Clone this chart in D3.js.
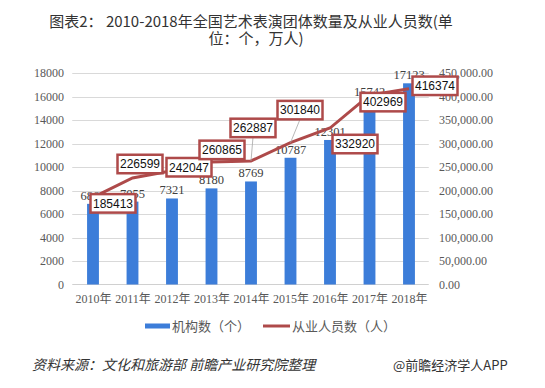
<!DOCTYPE html>
<html><head><meta charset="utf-8">
<script src="https://cdn.jsdelivr.net/npm/d3@7"></script>
<style>body{margin:0;background:#fff}svg{display:block}</style>
</head><body><svg id="c" width="545" height="388"></svg>
<script>
const years = ["2010年","2011年","2012年","2013年","2014年","2015年","2016年","2017年","2018年"];
const orgCounts = [6864,7055,7321,8180,8769,10787,12301,15742,17123];
const employees = [185413,226599,242047,260865,262887,301840,332920,402969,416374];
const leftTicks = [0,2000,4000,6000,8000,10000,12000,14000,16000,18000];
const rightTicks = [0,50000,100000,150000,200000,250000,300000,350000,400000,450000];
const seriesNames = ["机构数（个）","从业人员数（人）"];
// callout offsets (layout)
const calloutOffsets = [[20,6],[7.5,-14],[17,-3.5],[10.5,-12],[2,-33],[9.5,-32.5],[25,16],[13.5,7],[26,-3]];

const svg = d3.select("#c");
const L=73.25, R=428.75, T=73, B=284.5;
const blue="#3c7dd9", red="#ae4a4a";
const serif="'Liberation Serif','Times New Roman','Noto Sans CJK SC',serif";
const sans="'Noto Sans CJK SC','Liberation Sans',sans-serif";

const x = d3.scalePoint().domain(years).range([L,R]).padding(0.5);
const step = x.step();
const bw = step*0.3;
const yL = d3.scaleLinear().domain([0,18000]).range([B,T]);
const yR = d3.scaleLinear().domain([0,450000]).range([B,T]);

// title
const title = svg.append("g").attr("font-family",sans).attr("font-size",15).attr("fill","#333").attr("text-anchor","middle");
title.append("text").attr("x",251).attr("y",27).text("图表2： 2010-2018年全国艺术表演团体数量及从业人员数(单");
title.append("text").attr("x",256).attr("y",44).text("位：个，万人)");

// gridlines
svg.append("g").selectAll("line").data(leftTicks.slice(1)).join("line")
  .attr("x1",L-1).attr("x2",R).attr("y1",d=>Math.round(yL(d))+0.5).attr("y2",d=>Math.round(yL(d))+0.5)
  .attr("stroke","#d9d9d9").attr("stroke-width",1);
svg.append("line").attr("x1",L-1).attr("x2",R).attr("y1",B).attr("y2",B).attr("stroke","#d0d0d0");

// axes
const axL = d3.axisLeft(yL).tickValues(leftTicks).tickSize(0).tickPadding(0).tickFormat(d3.format("d"));
const gL = svg.append("g").attr("transform",`translate(64,0)`).call(axL);
gL.select(".domain").remove();
gL.selectAll("text").attr("font-family",serif).attr("font-size",12).attr("fill","#595959");

const axR = d3.axisRight(yR).tickValues(rightTicks).tickSize(0).tickPadding(0).tickFormat(d3.format(",.2f"));
const gR = svg.append("g").attr("transform",`translate(439,0)`).call(axR);
gR.select(".domain").remove();
gR.selectAll("text").attr("font-family",serif).attr("font-size",12).attr("fill","#595959");

const axB = d3.axisBottom(x).tickSize(0).tickPadding(0);
const gB = svg.append("g").attr("transform",`translate(0,${B+10})`).call(axB);
gB.select(".domain").remove();
gB.selectAll("text").attr("font-family",serif).attr("font-size",12).attr("fill","#595959");

// bars
svg.append("g").selectAll("rect").data(orgCounts).join("rect")
  .attr("x",(d,i)=>x(years[i])-bw/2).attr("width",bw)
  .attr("y",d=>yL(d)).attr("height",d=>B-yL(d)).attr("fill",blue);
svg.append("g").selectAll("text").data(orgCounts).join("text")
  .attr("x",(d,i)=>x(years[i])).attr("y",d=>yL(d)-4).attr("text-anchor","middle")
  .attr("font-family",serif).attr("font-size",12.5).attr("fill","#404040").text(d=>d);

// line
const pts = employees.map((d,i)=>[x(years[i]),yR(d)]);
svg.append("path").attr("d",d3.line()(pts)).attr("fill","none").attr("stroke",red).attr("stroke-width",3);

// callouts
const bwBox=45, bhBox=18.5;
const cg = svg.append("g");
employees.forEach((d,i)=>{
  const [px,py]=pts[i];
  const cx=px+calloutOffsets[i][0], cy=py+calloutOffsets[i][1];
  if (Math.abs(calloutOffsets[i][1])>20){
    cg.append("line").attr("x1",cx).attr("y1",cy+bhBox/2).attr("x2",px).attr("y2",py)
      .attr("stroke","#a6a6a6").attr("stroke-width",0.8);
  }
});
employees.forEach((d,i)=>{
  const [px,py]=pts[i];
  const cx=px+calloutOffsets[i][0], cy=py+calloutOffsets[i][1];
  cg.append("rect").attr("x",cx-bwBox/2).attr("y",cy-bhBox/2).attr("width",bwBox).attr("height",bhBox)
    .attr("fill","#fff").attr("stroke",red).attr("stroke-width",2.5);
  cg.append("text").attr("x",cx).attr("y",cy+4.3).attr("text-anchor","middle")
    .attr("font-family","'Liberation Sans',Arial,sans-serif").attr("font-size",12).attr("fill","#111").text(d);
});

// legend
const lg = svg.append("g").attr("font-family",sans).attr("font-size",13).attr("fill","#595959");
lg.append("rect").attr("x",145).attr("y",323.5).attr("width",25).attr("height",5).attr("fill",blue);
lg.append("text").attr("x",172).attr("y",331).text(seriesNames[0]);
lg.append("line").attr("x1",263).attr("x2",290).attr("y1",326).attr("y2",326).attr("stroke",red).attr("stroke-width",3);
lg.append("text").attr("x",292).attr("y",331).text(seriesNames[1]);

// footer
svg.append("text").attr("x",32).attr("y",370).attr("font-family",sans).attr("font-size",14)
  .attr("font-style","italic").attr("fill","#333").text("资料来源：文化和旅游部 前瞻产业研究院整理");
svg.append("text").attr("x",393).attr("y",370).attr("font-family",sans).attr("font-size",13)
  .attr("fill","#333").text("@前瞻经济学人APP");
</script></body></html>
